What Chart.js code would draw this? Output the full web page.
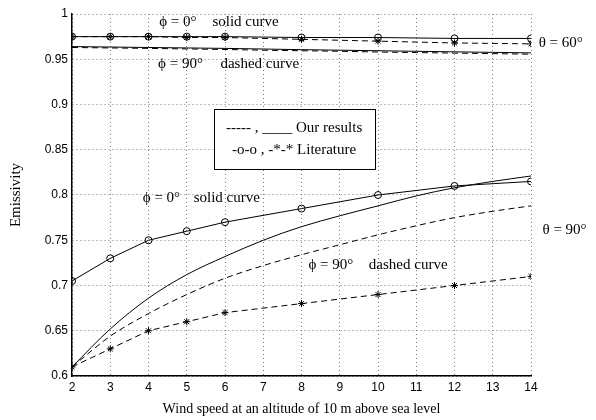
<!DOCTYPE html>
<html>
<head>
<meta charset="utf-8">
<script src="https://cdn.jsdelivr.net/npm/chart.js@4.4.1/dist/chart.umd.min.js"></script>
<style>
  html, body { margin: 0; padding: 0; background: #fff; }
  #wrap { width: 596px; height: 420px; }
</style>
</head>
<body>
<div id="wrap"><canvas id="chart" width="596" height="420"></canvas></div>
<script>
// wind speed at 10 m (x values)
const litSpeed = [2, 3, 4, 5, 6, 8, 10, 12, 14];
const ourSpeed = [2, 3, 4, 5, 6, 7, 8, 9, 10, 11, 12, 13, 14];

// theta = 60 deg
const lit60Phi0  = [0.975, 0.975, 0.975, 0.975, 0.975, 0.974, 0.974, 0.973, 0.973];
const lit60Phi90 = [0.975, 0.975, 0.975, 0.974, 0.974, 0.972, 0.970, 0.968, 0.967];
const our60Phi0  = [0.964, 0.9635, 0.963, 0.9625, 0.962, 0.9613, 0.9606, 0.960, 0.9594, 0.9588, 0.9582, 0.9576, 0.957];
const our60Phi90 = [0.963, 0.9625, 0.962, 0.9614, 0.9608, 0.960, 0.9594, 0.9588, 0.958, 0.9574, 0.9568, 0.9562, 0.9556];

// theta = 90 deg
const lit90Phi0  = [0.705, 0.730, 0.750, 0.760, 0.770, 0.785, 0.800, 0.810, 0.815];
const lit90Phi90 = [0.610, 0.630, 0.650, 0.660, 0.670, 0.680, 0.690, 0.700, 0.710];
const our90Phi0  = [0.610, 0.652, 0.686, 0.712, 0.732, 0.750, 0.765, 0.777, 0.788, 0.799, 0.808, 0.815, 0.821];
const our90Phi90 = [0.610, 0.644, 0.669, 0.690, 0.708, 0.722, 0.734, 0.745, 0.756, 0.766, 0.775, 0.782, 0.788];

// axis ticks
const xTicks = [2, 3, 4, 5, 6, 7, 8, 9, 10, 11, 12, 13, 14];
const yTicks = [0.6, 0.65, 0.7, 0.75, 0.8, 0.85, 0.9, 0.95, 1];
const yTickLabels = ['0.6', '0.65', '0.7', '0.75', '0.8', '0.85', '0.9', '0.95', '1'];

const serif = "'Liberation Serif', 'Times New Roman', 'DejaVu Serif', serif";
const sans = "'Liberation Sans', Arial, sans-serif";

function pts(xs, ys) {
    return xs.map((x, i) => ({ x: x, y: ys[i] }));
}

function litSet(ys, style) {
    return {
        data: pts(litSpeed, ys),
        borderColor: '#000',
        borderWidth: 1,
        borderDash: style === 'star' ? [6, 4] : [],
        pointStyle: style,
        pointRadius: 3.5,
        pointBorderColor: '#000',
        pointBorderWidth: 1,
        pointBackgroundColor: 'rgba(255,255,255,0)',
        tension: 0
    };
}

function ourSet(ys, dashed) {
    return {
        data: pts(ourSpeed, ys),
        borderColor: '#000',
        borderWidth: 1,
        borderDash: dashed ? [6, 4] : [],
        pointRadius: 0,
        cubicInterpolationMode: 'monotone'
    };
}

// text notes placed in data coordinates
const notes = [
    { t: 'ϕ = 0°', x: 4.28, y: 0.991 },
    { t: 'solid curve', x: 5.67, y: 0.991 },
    { t: 'ϕ = 90°', x: 4.25, y: 0.9448 },
    { t: 'dashed curve', x: 5.88, y: 0.9448 },
    { t: 'ϕ = 0°', x: 3.85, y: 0.7967 },
    { t: 'solid curve', x: 5.18, y: 0.7967 },
    { t: 'ϕ = 90°', x: 8.18, y: 0.7227 },
    { t: 'dashed curve', x: 9.76, y: 0.7227 },
    { t: 'θ = 60°', x: 14.2, y: 0.968 },
    { t: 'θ = 90°', x: 14.3, y: 0.7613 }
];

const notesPlugin = {
    id: 'notes',
    afterDraw(chart) {
        const ctx = chart.ctx;
        const xs = chart.scales.x, ys = chart.scales.y;
        ctx.save();
        ctx.fillStyle = '#000';
        ctx.font = '15px ' + serif;
        ctx.textBaseline = 'middle';
        ctx.textAlign = 'left';
        notes.forEach(n => {
            ctx.fillText(n.t, xs.getPixelForValue(n.x), ys.getPixelForValue(n.y));
        });

        // legend box
        const l = xs.getPixelForValue(5.70), r = xs.getPixelForValue(9.915);
        const t = ys.getPixelForValue(0.895), b = ys.getPixelForValue(0.8287);
        ctx.fillStyle = '#fff';
        ctx.fillRect(l, t, r - l, b - t);
        ctx.strokeStyle = '#000';
        ctx.lineWidth = 1;
        ctx.strokeRect(Math.round(l) + 0.5, Math.round(t) + 0.5, Math.round(r - l), Math.round(b - t));
        ctx.fillStyle = '#000';
        ctx.textAlign = 'center';
        const cx = (l + r) / 2;
        ctx.fillText('----- , ____ Our results', cx, ys.getPixelForValue(0.874));
        ctx.fillText('-o-o , -*-* Literature', cx, ys.getPixelForValue(0.8497));
        ctx.restore();
    }
};

new Chart(document.getElementById('chart'), {
    type: 'line',
    data: {
        datasets: [
            litSet(lit60Phi0, 'circle'),
            litSet(lit60Phi90, 'star'),
            ourSet(our60Phi0, false),
            ourSet(our60Phi90, true),
            litSet(lit90Phi0, 'circle'),
            litSet(lit90Phi90, 'star'),
            ourSet(our90Phi0, false),
            ourSet(our90Phi90, true)
        ]
    },
    options: {
        responsive: false,
        animation: false,
        devicePixelRatio: 1,
        layout: { padding: { top: 14, right: 65, left: 0, bottom: 0 } },
        plugins: {
            legend: { display: false },
            tooltip: { enabled: false }
        },
        scales: {
            x: {
                type: 'linear',
                min: 2,
                max: 14,
                afterBuildTicks: s => { s.ticks = xTicks.map(v => ({ value: v })); },
                afterFit: s => { s.height = 44; },
                ticks: {
                    color: '#000',
                    font: { family: sans, size: 12 },
                    padding: 4,
                    maxRotation: 0,
                    callback: v => String(v)
                },
                grid: { color: '#777', lineWidth: 1, drawTicks: false },
                border: { color: '#000', width: 1.5, dash: [1, 3] },
                title: {
                    display: true,
                    text: 'Wind speed at an altitude of 10 m above sea level',
                    color: '#000',
                    font: { family: serif, size: 14 },
                    padding: { top: 0, bottom: 2 }
                }
            },
            y: {
                type: 'linear',
                min: 0.6,
                max: 1,
                afterBuildTicks: s => { s.ticks = yTicks.map(v => ({ value: v })); },
                afterFit: s => { s.width = 72; },
                ticks: {
                    color: '#000',
                    font: { family: sans, size: 12 },
                    padding: 4,
                    callback: (v, i) => yTickLabels[i]
                },
                grid: { color: '#777', lineWidth: 1, drawTicks: false },
                border: { color: '#000', width: 1.5, dash: [1, 3] },
                title: {
                    display: true,
                    text: 'Emissivity',
                    color: '#000',
                    font: { family: serif, size: 15 },
                    padding: { top: 7, bottom: 0 }
                }
            }
        }
    },
    plugins: [notesPlugin]
});
</script>
</body>
</html>
